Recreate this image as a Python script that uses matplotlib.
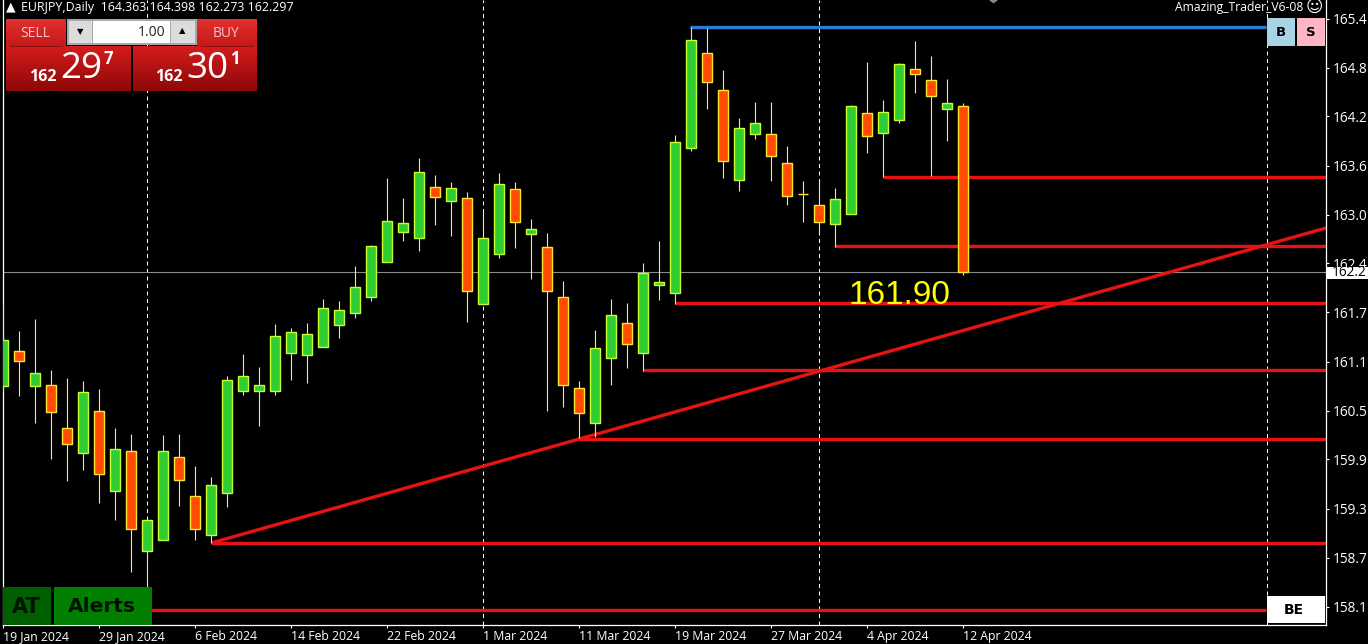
import numpy as np
import matplotlib
matplotlib.use('Agg')
import matplotlib.pyplot as plt
from matplotlib.patches import Rectangle, Polygon

# EURJPY daily candles, oldest first
opens = [160.881, 161.316, 160.881, 160.893, 160.359, 160.049, 160.570, 159.577, 160.073, 158.831,
         158.968, 160.000, 159.514, 159.030, 159.552, 160.819, 160.819, 160.819, 161.291, 161.266,
         161.365, 161.639, 161.788, 161.986, 162.421, 162.794, 162.719, 163.353, 163.179, 163.216,
         161.899, 162.521, 163.328, 162.769, 162.608, 161.986, 160.856, 160.421, 161.229, 161.663,
         161.291, 162.136, 162.036, 163.837, 165.017, 164.558, 163.440, 164.011, 164.011, 163.651,
         163.266, 163.129, 162.893, 163.017, 164.272, 164.024, 164.185, 164.819, 164.682, 164.322,
         164.359]
closes = [161.452, 161.191, 161.042, 160.558, 160.160, 160.806, 159.788, 160.098, 159.105, 159.216,
          160.073, 159.713, 159.105, 159.651, 160.955, 161.005, 160.893, 161.502, 161.552, 161.527,
          161.850, 161.825, 162.111, 162.620, 162.931, 162.906, 163.539, 163.229, 163.340, 162.061,
          162.719, 163.390, 162.918, 162.831, 162.061, 160.893, 160.545, 161.353, 161.763, 161.403,
          162.285, 162.173, 163.912, 165.179, 164.657, 163.676, 164.086, 164.148, 163.738, 163.241,
          163.266, 162.918, 163.204, 164.359, 163.986, 164.285, 164.881, 164.757, 164.483, 164.396,
          162.297]
highs = [161.887, 161.564, 161.713, 161.080, 160.980, 160.943, 160.844, 160.359, 160.285, 159.216,
         160.272, 160.285, 159.887, 159.750, 161.005, 161.278, 161.117, 161.651, 161.601, 161.663,
         161.962, 161.937, 162.372, 162.632, 163.465, 163.216, 163.713, 163.502, 163.415, 163.291,
         163.042, 163.527, 163.415, 162.955, 162.781, 162.185, 160.943, 161.577, 161.962, 161.912,
         162.409, 162.682, 163.999, 165.340, 165.328, 164.806, 164.210, 164.409, 164.409, 163.862,
         163.427, 163.427, 163.340, 164.371, 164.906, 164.434, 164.893, 165.166, 164.980, 164.694,
         164.396]
lows = [160.806, 160.757, 160.421, 159.974, 159.701, 159.837, 159.428, 159.216, 158.570, 158.397,
        158.968, 159.390, 158.968, 158.931, 159.378, 160.769, 160.384, 160.769, 160.955, 160.918,
        161.365, 161.477, 161.726, 161.937, 162.421, 162.682, 162.558, 162.881, 162.744, 161.676,
        161.899, 162.471, 162.595, 162.210, 160.570, 160.620, 160.235, 160.247, 160.893, 161.105,
        161.067, 161.949, 161.899, 163.800, 164.322, 163.465, 163.303, 163.949, 163.427, 163.129,
        162.918, 162.781, 162.608, 163.017, 163.775, 163.477, 164.148, 164.521, 163.490, 163.924,
        162.260]

date_idx = [0, 6, 12, 18, 24, 30, 36, 42, 48, 54, 60]
date_labels = ['19 Jan 2024', '29 Jan 2024', '6 Feb 2024', '14 Feb 2024', '22 Feb 2024', '1 Mar 2024',
               '11 Mar 2024', '19 Mar 2024', '27 Mar 2024', '4 Apr 2024', '12 Apr 2024']
price_ticks = [165.446, 164.837, 164.229, 163.620, 163.011, 162.403, 161.794,
               161.185, 160.576, 159.968, 159.359, 158.750, 158.141]
price_labels = ['165.4', '164.8', '164.2', '163.6', '163.0', '162.4', '161.7',
                '161.1', '160.5', '159.9', '159.3', '158.7', '158.1']
separators = [9, 30, 51, 79]

# drawn levels: start candle, price
level_start = [55, 52, 42, 40, 36, 13]
level_price = [163.477, 162.620, 161.912, 161.080, 160.223, 158.931]
top_level = 165.340
bottom_level = 158.098
bid = 162.297
trend_x = [13, 82.67]
trend_y = [158.931, 162.844]

RED = '#e81212'
W, H = 1368, 644
font = ['Open Sans', 'DejaVu Sans']

fig = plt.figure(figsize=(W / 100, H / 100), dpi=100, facecolor='black')
ax = fig.add_axes([3 / W, (H - 625) / H, (1326 - 3) / W, 625 / H], facecolor='black')

idx = np.arange(len(opens))
o = np.array(opens)
c = np.array(closes)
up = c > o
for s in separators:
    ax.axvline(s, color='white', lw=0.72, ls=(0, (4, 3.5)), zorder=1)
ax.axhline(bid, color='#8c8c8c', lw=0.8, zorder=1)
for st, p in zip(level_start, level_price):
    ax.plot([st, 90], [p, p], color=RED, lw=2.4, solid_capstyle='butt', zorder=2)
ax.plot([42.95, 78.9], [top_level, top_level], color='#2a7ad6', lw=2.4, solid_capstyle='butt', zorder=2)
ax.plot([8, 78.9], [bottom_level, bottom_level], color=RED, lw=2.4, solid_capstyle='butt', zorder=2)
ax.plot(trend_x, trend_y, color=RED, lw=2.4, solid_capstyle='butt', zorder=2)

ax.vlines(idx, lows, highs, color='#f4f060', lw=0.8, zorder=3)
ax.bar(idx[up], (c - o)[up], bottom=o[up], width=0.62, color='#32cd32', edgecolor='#c4ff30', linewidth=1.0, zorder=4)
ax.bar(idx[~up], (c - o)[~up], bottom=o[~up], width=0.62, color='#ff4c00', edgecolor='#ffe632', linewidth=1.0, zorder=4)

ax.text(56.04, 162.008, '161.90', color='#ffff00', fontsize=24, family='Liberation Sans', ha='center', va='center', zorder=5)

ax.set_xlim(-0.02, 82.67)
ax.set_ylim(157.912, 165.676)
ax.set_xticks(date_idx)
ax.set_xticklabels(date_labels, ha='left', family=font, fontsize=8.8, color='white')
ax.yaxis.tick_right()
ax.set_yticks(price_ticks)
ax.set_yticklabels(price_labels, family=font, fontsize=9.8, color='white')
ax.tick_params(axis='x', colors='white', length=2.2, width=0.8, pad=1.5)
ax.tick_params(axis='y', colors='white', length=2.2, width=0.8, pad=2.5)
for label in ax.get_yticklabels():
    label.set_verticalalignment('center_baseline')
for name in ['left', 'right', 'bottom']:
    ax.spines[name].set_color('white')
    ax.spines[name].set_linewidth(0.9)
ax.spines['top'].set_visible(False)

# overlay in pixel coordinates for the terminal's buttons and captions
ui = fig.add_axes([0, 0, 1, 1], zorder=10)
ui.patch.set_alpha(0)
ui.axis('off')


def red_box(x0, y0, x1, y1, top, bottom):
    grad = np.linspace(0, 1, 32)[:, None]
    cols = np.array(matplotlib.colors.to_rgb(top)) * (1 - grad) + np.array(matplotlib.colors.to_rgb(bottom)) * grad
    ui.imshow(cols[:, None, :].reshape(32, 1, 3), extent=[x0, x1, y1, y0], aspect='auto', interpolation='bilinear')


def box(x0, y0, x1, y1, color):
    ui.add_patch(Rectangle((x0, y0), x1 - x0, y1 - y0, facecolor=color, edgecolor='none'))


red_box(6, 19, 66, 46, '#e03030', '#c81818')
red_box(197, 19, 257, 46, '#e03030', '#c81818')
red_box(6, 46, 131, 91, '#d41c1c', '#8e0808')
red_box(133, 46, 257, 91, '#d41c1c', '#8e0808')
ui.plot([10, 62], [45.5, 45.5], color='#8a1010', lw=0.7)
ui.plot([201, 253], [45.5, 45.5], color='#8a1010', lw=0.7)
ui.text(35, 33, 'SELL', color='#f4c4c4', fontsize=10, family=font, ha='center', va='center')
ui.text(226, 33, 'BUY', color='#f4c4c4', fontsize=10, family=font, ha='center', va='center')

box(67, 19, 197, 45, '#a8a8a8')
box(69, 21, 92, 43, '#dcdcdc')
box(171, 21, 195, 43, '#dcdcdc')
box(93, 21, 170, 43, 'white')
ui.text(80, 32, '▼', color='black', fontsize=6, family='DejaVu Sans', ha='center', va='center')
ui.text(182, 31, '▲', color='black', fontsize=6, family='DejaVu Sans', ha='center', va='center')
ui.text(165, 32.5, '1.00', color='#222222', fontsize=10, family=font, ha='right', va='center')

ui.text(42.5, 77, '162', color='white', fontsize=11.5, fontweight='bold', family=font, ha='center', va='center')
ui.text(81, 69, '29', color='white', fontsize=26.5, family=font, ha='center', va='center')
ui.text(108.5, 59, '7', color='white', fontsize=12, fontweight='bold', family=font, ha='center', va='center')
ui.text(168.5, 77, '162', color='white', fontsize=11.5, fontweight='bold', family=font, ha='center', va='center')
ui.text(207, 69, '30', color='white', fontsize=26.5, family=font, ha='center', va='center')
ui.text(235, 59, '1', color='white', fontsize=12, fontweight='bold', family=font, ha='center', va='center')

ui.text(6, 6.5, '▲', color='white', fontsize=9, family='DejaVu Sans', ha='left', va='center')
ui.text(21, 7, 'EURJPY,Daily  164.363 164.398 162.273 162.297', color='white', fontsize=8.9, family=font, ha='left', va='center')
ui.text(1303, 7, 'Amazing_Trader_V6-08', color='white', fontsize=8.7, family=font, ha='right', va='center')
ui.text(1314, 7, '☺', color='white', fontsize=12, family='DejaVu Sans', ha='center', va='center')
# small grey marker clipped by the top edge
ui.add_patch(Polygon([[989, 0], [998, 0], [993.5, 3.5]], closed=True, facecolor='#8a8a8a', edgecolor='none'))

box(1267, 18, 1295, 46, '#a8d4e6')
box(1297, 18, 1325, 46, '#ffb6c1')
ui.text(1281, 32, 'B', color='black', fontsize=9.5, fontweight='bold', family='DejaVu Sans', ha='center', va='center')
ui.text(1311, 32, 'S', color='black', fontsize=9.5, fontweight='bold', family='DejaVu Sans', ha='center', va='center')
box(1267, 596, 1325, 623, 'white')
ui.text(1294, 610, 'BE', color='black', fontsize=10, fontweight='bold', family='DejaVu Sans', ha='center', va='center')
box(3, 587, 51, 625, '#005f00')
box(54, 587, 152, 625, '#007f00')
ui.text(26, 607, 'AT', color='#021002', fontsize=15, fontweight='bold', family='DejaVu Sans', ha='center', va='center')
ui.text(102, 607, 'Alerts', color='#021002', fontsize=14.5, fontweight='bold', family='DejaVu Sans', ha='center', va='center')

# white box of the current bid on the price scale
box(1327, 267, W, 279, 'white')
ui.text(1332, 272.5, '162.2', color='black', fontsize=9.8, family=font, ha='left', va='center')

ui.set_xlim(0, W)
ui.set_ylim(H, 0)

fig.savefig('out.png', dpi=100, facecolor='black')
